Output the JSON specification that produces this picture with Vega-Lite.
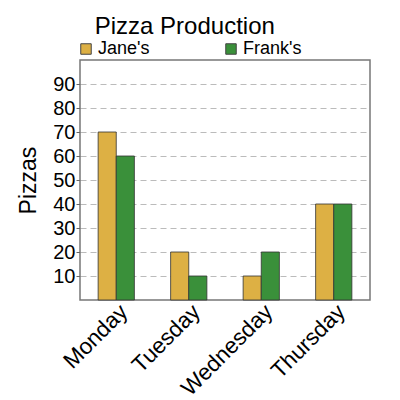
{
  "$schema": "https://vega.github.io/schema/vega-lite/v6.json",
  "autosize": "none",
  "padding": {"left": 80, "top": 60, "right": 30, "bottom": 100},
  "width": 290,
  "height": 240,
  "title": {
    "text": "Pizza Production",
    "anchor": "start",
    "dx": 77,
    "fontSize": 24,
    "fontWeight": "normal",
    "font": "Liberation Sans",
    "offset": 1
  },
  "data": {
    "values": [
      {"day": "Monday", "person": "Jane's", "pizzas": 70},
      {"day": "Monday", "person": "Frank's", "pizzas": 60},
      {"day": "Tuesday", "person": "Jane's", "pizzas": 20},
      {"day": "Tuesday", "person": "Frank's", "pizzas": 10},
      {"day": "Wednesday", "person": "Jane's", "pizzas": 10},
      {"day": "Wednesday", "person": "Frank's", "pizzas": 20},
      {"day": "Thursday", "person": "Jane's", "pizzas": 40},
      {"day": "Thursday", "person": "Frank's", "pizzas": 40}
    ]
  },
  "mark": {"type": "bar", "stroke": "#333", "strokeWidth": 1, "strokeOpacity": 0.8},
  "encoding": {
    "x": {
      "field": "day",
      "type": "nominal",
      "sort": ["Monday", "Tuesday", "Wednesday", "Thursday"],
      "scale": {"paddingInner": 0.5, "paddingOuter": 0.25},
      "axis": {
        "title": null,
        "labelAngle": -45,
        "labelFontSize": 22.5,
        "labelAlign": "right",
        "labelBaseline": "top",
        "ticks": false,
        "domain": false,
        "grid": false,
        "labelPadding": 0
      }
    },
    "xOffset": {"field": "person", "sort": ["Jane's", "Frank's"]},
    "y": {
      "field": "pizzas",
      "type": "quantitative",
      "scale": {"domain": [0, 100]},
      "axis": {
        "title": "Pizzas",
        "titleFontSize": 23,
        "titleFontWeight": "normal",
        "titlePadding": 12,
        "values": [10, 20, 30, 40, 50, 60, 70, 80, 90],
        "labelFontSize": 20,
        "labelPadding": 1,
        "tickSize": 4,
        "tickColor": "#666",
        "domain": false,
        "grid": true,
        "gridDash": [6, 4],
        "gridColor": "#bbbbbb",
        "gridWidth": 1.2
      }
    },
    "color": {
      "field": "person",
      "type": "nominal",
      "sort": ["Jane's", "Frank's"],
      "scale": {"domain": ["Jane's", "Frank's"], "range": ["#DDB044", "#3A903A"]},
      "legend": {
        "title": null,
        "orient": "none",
        "legendX": -3,
        "legendY": -20,
        "direction": "horizontal",
        "symbolType": "square",
        "symbolSize": 110,
        "symbolStrokeColor": "#444",
        "symbolStrokeWidth": 1,
        "labelFontSize": 18,
        "labelOffset": 3,
        "columnPadding": 72,
        "padding": 0
      }
    }
  },
  "config": {
    "font": "Liberation Sans",
    "view": {"stroke": "#777", "strokeWidth": 1.5},
    "axis": {"labelColor": "#000", "titleColor": "#000"},
    "legend": {"labelColor": "#000"}
  }
}
